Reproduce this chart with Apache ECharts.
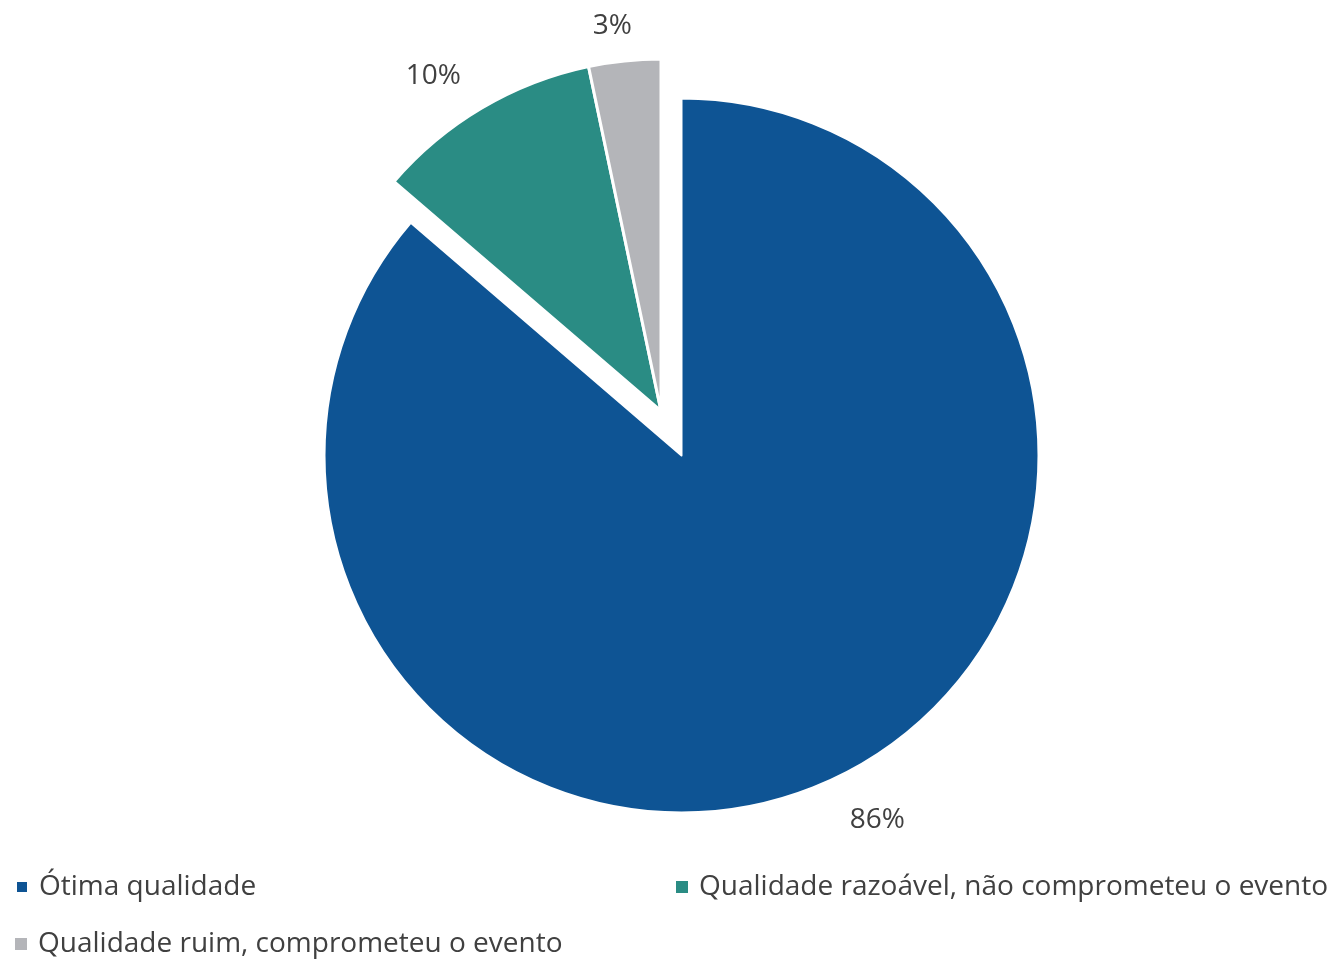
<!DOCTYPE html>
<html>
<head>
<meta charset="utf-8">
<script src="https://cdn.jsdelivr.net/npm/echarts@6/dist/echarts.min.js"></script>
<style>
html,body{margin:0;padding:0;background:#ffffff;}
#chart{width:1344px;height:965px;}
</style>
</head>
<body>
<div id="chart"></div>
<script>
// ---- data ----
const categories = [
  'Ótima qualidade',
  'Qualidade razoável, não comprometeu o evento',
  'Qualidade ruim, comprometeu o evento'
];
const values = [86.3, 10.4, 3.3];
const percentLabels = ['86%', '10%', '3%'];

// ---- styles ----
const colors = ['#0E5494', '#2A8C84', '#B4B5B9'];
const FONT = "'Open Sans', sans-serif";
const TEXT_COLOR = '#404040';
const labelLineCfg = [
  { length: 44, length2: 1 },
  { length: 37, length2: 2 },
  { length: 35, length2: -11 }
];
const hiddenStyle = { color: 'rgba(0,0,0,0)', borderWidth: 0 };

function buildData(group) {
  return values.map(function (v, i) {
    if (group.indexOf(i) >= 0) {
      return {
        name: categories[i],
        value: v,
        itemStyle: { color: colors[i] },
        labelLine: Object.assign({ show: false }, labelLineCfg[i])
      };
    }
    return {
      name: categories[i],
      value: v,
      itemStyle: hiddenStyle,
      label: { show: false },
      labelLine: { show: false },
      emphasis: { disabled: true },
      tooltip: { show: false }
    };
  });
}

function pieSeries(center, radius, group, border) {
  return {
    type: 'pie',
    center: center,
    radius: radius,
    startAngle: 90,
    clockwise: true,
    avoidLabelOverlap: false,
    animation: false,
    itemStyle: { borderColor: '#ffffff', borderWidth: border },
    emphasis: { scale: false },
    label: {
      show: true,
      position: 'outside',
      formatter: function (p) { return percentLabels[p.dataIndex]; },
      fontFamily: FONT,
      fontSize: 28,
      color: TEXT_COLOR,
      distanceToLabelLine: 0
    },
    data: buildData(group)
  };
}

function legendAt(i, left, top) {
  return {
    left: left,
    top: top,
    padding: 0,
    orient: 'horizontal',
    icon: 'rect',
    itemWidth: 12,
    itemHeight: 12,
    selectedMode: false,
    textStyle: {
      fontFamily: FONT,
      fontSize: 28,
      color: TEXT_COLOR,
      lineHeight: 30,
      padding: [0, 0, 0, 6]
    },
    data: [{ name: categories[i], itemStyle: { color: colors[i] } }]
  };
}

const chart = echarts.init(document.getElementById('chart'), null, { renderer: 'canvas' });
chart.setOption({
  backgroundColor: '#ffffff',
  animation: false,
  legend: [
    legendAt(0, 15, 872),
    legendAt(1, 676, 872),
    legendAt(2, 15, 929)
  ],
  series: [
    pieSeries([681.5, 455.5], 357, [0], 2),
    pieSeries([661, 411], 352, [1, 2], 3)
  ]
});
</script>
</body>
</html>
